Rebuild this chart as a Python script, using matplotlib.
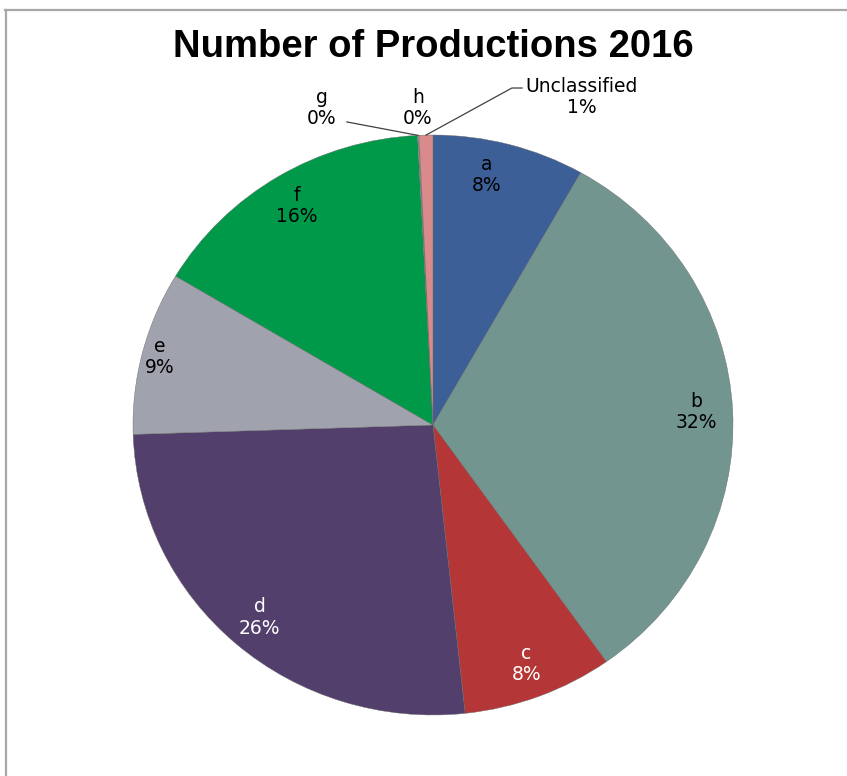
import numpy as np
import matplotlib
matplotlib.use("Agg")
import matplotlib.pyplot as plt
from matplotlib.lines import Line2D

# data
categories = ["a", "b", "c", "d", "e", "f", "g", "h", "Unclassified"]
shares = [8.2, 32.0, 8.1, 26.2, 9.1, 15.6, 0.04, 0.04, 0.74]
pct_labels = ["8%", "32%", "8%", "26%", "9%", "16%", "0%", "0%", "1%"]
colors = ["#3C5F97", "#72968F", "#B43636", "#533F6B", "#A0A2AD",
          "#00994A", "#C0C0C0", "#D0A0A0", "#D98A8A"]
text_colors = ["black", "black", "white", "white", "black", "black",
               "black", "black", "black"]

fig = plt.figure(figsize=(8.47, 7.76), dpi=100)
fig.patch.set_facecolor("white")

# grey frame (top and left edges visible)
fig.add_artist(Line2D([5 / 847, 1], [1 - 9.5 / 776] * 2, color="#A8A8A8", lw=1.6))
fig.add_artist(Line2D([6 / 847] * 2, [0, 1 - 9.5 / 776], color="#A8A8A8", lw=1.6))

ax = fig.add_axes([133 / 847, 1 - 715 / 776, 600 / 847, 580 / 776])

wedges, _ = ax.pie(shares, colors=colors, startangle=90, counterclock=False,
                   radius=1, wedgeprops=dict(edgecolor="#6A6A6A", linewidth=0.3))
ax.set_xlim(-1, 1)
ax.set_ylim(-1, 1)
ax.set_aspect("auto")
ax.axis("off")

fs = 13.5
font = "DejaVu Sans"

# inside labels
for i, w in enumerate(wedges[:6]):
    mid = np.deg2rad((w.theta1 + w.theta2) / 2)
    r = 0.94 if categories[i] == "e" else 0.88
    if categories[i] == "a":
        mid += np.deg2rad(3)
    ax.text(r * np.cos(mid), r * np.sin(mid), f"{categories[i]}\n{pct_labels[i]}",
            ha="center", va="center", fontsize=fs, family=font,
            color=text_colors[i], linespacing=1.15)

# outside labels for the tiny slices
def edge_point(w):
    mid = np.deg2rad((w.theta1 + w.theta2) / 2)
    return np.cos(mid), np.sin(mid)

gx, gy = edge_point(wedges[6])
ax.text(-0.37, 1.093, f"{categories[6]}\n{pct_labels[6]}", ha="center", va="center",
        fontsize=fs, family=font, linespacing=1.15)
ax.add_line(Line2D([-0.287, gx], [1.045, gy], color="#404040", lw=0.9, clip_on=False))

ax.text(-0.05, 1.093, f"{categories[7]}\n{pct_labels[7]}", ha="center", va="center",
        fontsize=fs, family=font, linespacing=1.15)

ux, uy = edge_point(wedges[8])
ax.text(0.495, 1.131, f"{categories[8]}\n{pct_labels[8]}", ha="center", va="center",
        fontsize=fs, family=font, linespacing=1.15)
ax.add_line(Line2D([ux, 0.263, 0.297], [uy, 1.162, 1.162], color="#404040", lw=0.9,
                   clip_on=False))

fig.text(433 / 847, 1 - 47 / 776, "Number of Productions 2016", ha="center",
         va="center", fontsize=27.5, fontweight="bold", family="Liberation Sans")

fig.savefig("out.png", dpi=100, facecolor="white")
